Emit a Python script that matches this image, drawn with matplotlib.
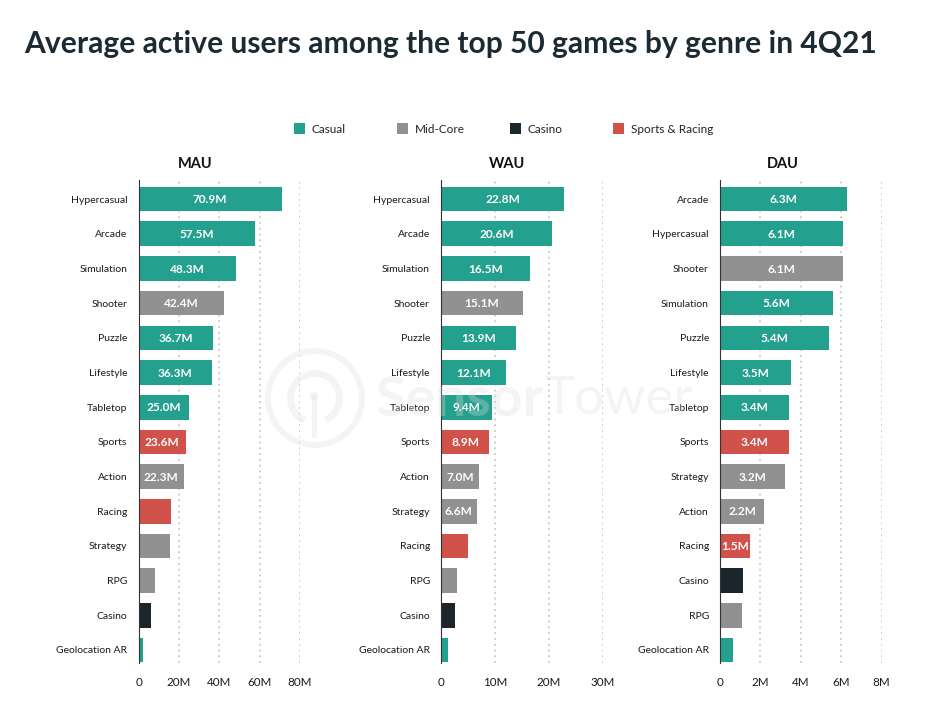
# -*- coding: utf-8 -*-
import matplotlib.pyplot as plt
from matplotlib.patches import Circle, Rectangle, Wedge

W, H = 938, 716

TEAL = '#24a08e'
GRAY = '#919191'
DARK = '#1b262c'
RED = '#d0524a'

colors = {'Casual': TEAL, 'Mid-Core': GRAY, 'Casino': DARK, 'Sports & Racing': RED}

mau_genres = ['Hypercasual', 'Arcade', 'Simulation', 'Shooter', 'Puzzle', 'Lifestyle', 'Tabletop',
              'Sports', 'Action', 'Racing', 'Strategy', 'RPG', 'Casino', 'Geolocation AR']
mau_values = [70.9, 57.5, 48.3, 42.4, 36.7, 36.3, 25.0, 23.6, 22.3, 16.2, 15.7, 8.2, 6.2, 2.2]
mau_labels = ['70.9M', '57.5M', '48.3M', '42.4M', '36.7M', '36.3M', '25.0M', '23.6M', '22.3M',
              '', '', '', '', '']
mau_groups = ['Casual', 'Casual', 'Casual', 'Mid-Core', 'Casual', 'Casual', 'Casual',
              'Sports & Racing', 'Mid-Core', 'Sports & Racing', 'Mid-Core', 'Mid-Core', 'Casino', 'Casual']

wau_genres = ['Hypercasual', 'Arcade', 'Simulation', 'Shooter', 'Puzzle', 'Lifestyle', 'Tabletop',
              'Sports', 'Action', 'Strategy', 'Racing', 'RPG', 'Casino', 'Geolocation AR']
wau_values = [22.8, 20.6, 16.5, 15.1, 13.9, 12.1, 9.4, 8.9, 7.0, 6.6, 5.0, 3.0, 2.6, 1.3]
wau_labels = ['22.8M', '20.6M', '16.5M', '15.1M', '13.9M', '12.1M', '9.4M', '8.9M', '7.0M', '6.6M',
              '', '', '', '']
wau_groups = ['Casual', 'Casual', 'Casual', 'Mid-Core', 'Casual', 'Casual', 'Casual',
              'Sports & Racing', 'Mid-Core', 'Mid-Core', 'Sports & Racing', 'Mid-Core', 'Casino', 'Casual']

dau_genres = ['Arcade', 'Hypercasual', 'Shooter', 'Simulation', 'Puzzle', 'Lifestyle', 'Tabletop',
              'Sports', 'Strategy', 'Action', 'Racing', 'Casino', 'RPG', 'Geolocation AR']
dau_values = [6.3, 6.1, 6.1, 5.6, 5.4, 3.5, 3.4, 3.4, 3.2, 2.2, 1.5, 1.15, 1.1, 0.65]
dau_labels = ['6.3M', '6.1M', '6.1M', '5.6M', '5.4M', '3.5M', '3.4M', '3.4M', '3.2M', '2.2M', '1.5M',
              '', '', '']
dau_groups = ['Casual', 'Casual', 'Mid-Core', 'Casual', 'Casual', 'Casual', 'Casual',
              'Sports & Racing', 'Mid-Core', 'Mid-Core', 'Sports & Racing', 'Casino', 'Mid-Core', 'Casual']

plt.rcParams['font.family'] = ['Lato', 'DejaVu Sans']

fig = plt.figure(figsize=(W / 100, H / 100), dpi=100, facecolor='white')


def draw_panel(left, right, title, title_x, genres, values, labels, groups, ticks, ticklabels):
    top, bottom = 180, 663
    ax = fig.add_axes([left / W, 1 - bottom / H, (right - left) / W, (bottom - top) / H])
    ypos = list(range(len(genres)))
    ax.barh(ypos, values, height=0.71, color=[colors[g] for g in groups], zorder=3)
    for y, v, lab in zip(ypos, values, labels):
        if lab:
            ax.text(v / 2, y + 0.02, lab, ha='center', va='center', color='white',
                    fontsize=8.6, fontweight='bold', zorder=4)
    ax.set_xlim(ticks[0], ticks[-1])
    ax.set_ylim(13.375, -0.55)
    ax.set_yticks(ypos)
    ax.set_yticklabels(genres, fontsize=7.5, color='#1a1a1a')
    ax.set_xticks(ticks)
    ax.set_xticklabels(ticklabels, fontsize=8.4, color='#1a1a1a')
    ax.tick_params(axis='y', length=0, pad=8)
    ax.tick_params(axis='x', length=0, pad=10)
    ax.grid(axis='x', color='#c8c8c8', linestyle=(0, (1, 2.2)), linewidth=1.3, zorder=1)
    ax.set_axisbelow(True)
    for s in ['top', 'right', 'bottom']:
        ax.spines[s].set_visible(False)
    ax.spines['left'].set_color('#333333')
    ax.spines['left'].set_linewidth(0.8)
    ax.spines['left'].set_zorder(5)
    fig.text(title_x / W, 1 - 164 / H, title, ha='center', va='center',
             fontsize=10.5, fontweight='bold', color='#111111')


draw_panel(138.5, 300, 'MAU', 195, mau_genres, mau_values, mau_labels, mau_groups,
           [0, 20, 40, 60, 80], ['0', '20M', '40M', '60M', '80M'])
draw_panel(441, 603, 'WAU', 507, wau_genres, wau_values, wau_labels, wau_groups,
           [0, 10, 20, 30], ['0', '10M', '20M', '30M'])
draw_panel(720, 881.5, 'DAU', 783, dau_genres, dau_values, dau_labels, dau_groups,
           [0, 2, 4, 6, 8], ['0', '2M', '4M', '6M', '8M'])

# overlay in pixel coordinates for title, legend and watermark
over = fig.add_axes([0, 0, 1, 1], zorder=10)
over.set_xlim(0, W)
over.set_ylim(H, 0)
over.axis('off')

over.text(24, 44, 'Average active users among the top 50 games by genre in 4Q21', ha='left', va='center',
          fontsize=21.6, fontweight='bold', color='#1c2b33')

for x, name in zip([294, 397, 510, 613], colors):
    over.add_patch(Rectangle((x, 123), 11, 11, color=colors[name], lw=0))
    over.text(x + 18, 129.5, name, ha='left', va='center', fontsize=8.5, color='#222222')

# SensorTower watermark
wm = dict(color='#dddddd', alpha=0.3, lw=0)
over.add_patch(Wedge((315, 398), 50, 0, 360, width=6, **wm))
over.add_patch(Wedge((315, 398), 28, 115, 65, width=7, **wm))
over.add_patch(Circle((314, 396), 4.5, **wm))
over.add_patch(Rectangle((311.5, 396), 5, 42, **wm))
over.text(376, 400, 'Sensor', ha='left', va='center', fontsize=40, fontweight='bold',
          color='#dddddd', alpha=0.3)
over.text(543, 400, 'Tower', ha='left', va='center', fontsize=38, color='#dddddd', alpha=0.3)

fig.savefig('out.png', dpi=100, facecolor='white')
